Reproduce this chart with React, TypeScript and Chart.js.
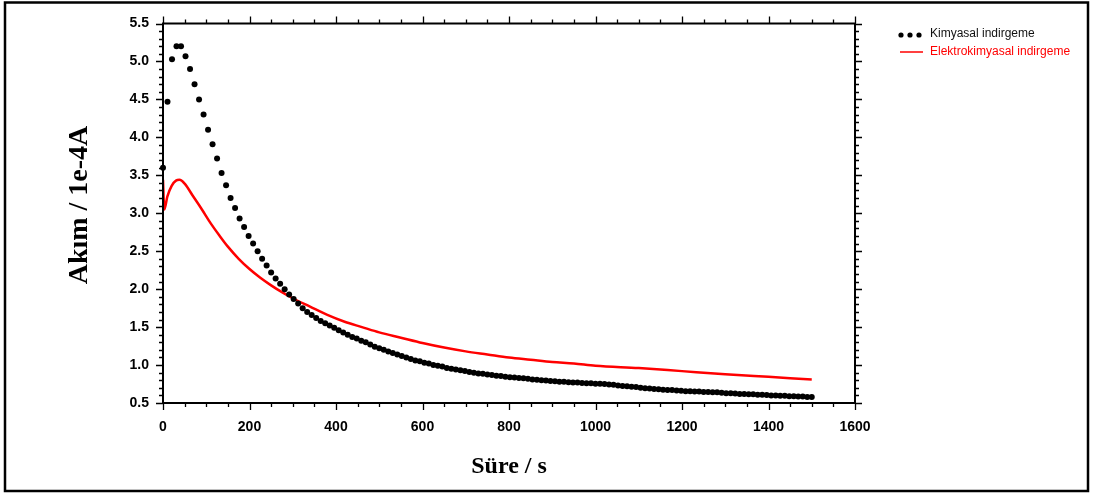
import React, { useEffect, useRef } from "react";
import { Chart, registerables } from "chart.js";

Chart.register(...registerables);

// ---- Data ----
const KIMYASAL_LABEL = "Kimyasal indirgeme";
const ELEKTRO_LABEL = "Elektrokimyasal indirgeme";

// Chemical reduction (black dots), sampled on a regular time grid 0..1500 s (145 samples)
const kimyasalValues = [
  3.6, 4.47, 5.03, 5.2, 5.2, 5.07, 4.9, 4.7, 4.5, 4.3,
  4.1, 3.91, 3.72, 3.53, 3.37, 3.2, 3.07, 2.93, 2.82, 2.7,
  2.6, 2.5, 2.4, 2.31, 2.22, 2.14, 2.07, 2.0, 1.93, 1.87,
  1.81, 1.75, 1.7, 1.66, 1.62, 1.58, 1.55, 1.52, 1.49, 1.46,
  1.43, 1.4, 1.37, 1.35, 1.32, 1.3, 1.27, 1.24, 1.22, 1.2,
  1.18, 1.16, 1.14, 1.12, 1.1, 1.08, 1.06, 1.05, 1.03, 1.02,
  1.0, 0.99, 0.98, 0.96, 0.95, 0.94, 0.93, 0.92, 0.91, 0.9,
  0.89, 0.885, 0.875, 0.87, 0.86, 0.855, 0.845, 0.84, 0.835, 0.83,
  0.825, 0.82, 0.81, 0.805, 0.8, 0.795, 0.79, 0.785, 0.78, 0.78,
  0.775, 0.77, 0.77, 0.765, 0.76, 0.76, 0.755, 0.755, 0.75, 0.745,
  0.74, 0.73, 0.725, 0.72, 0.715, 0.71, 0.7, 0.695, 0.69, 0.685,
  0.68, 0.675, 0.67, 0.67, 0.665, 0.66, 0.655, 0.655, 0.65, 0.65,
  0.645, 0.645, 0.64, 0.64, 0.635, 0.63, 0.63, 0.625, 0.62, 0.62,
  0.615, 0.615, 0.61, 0.61, 0.605, 0.6, 0.6, 0.595, 0.595, 0.59,
  0.59, 0.585, 0.585, 0.58, 0.58,
];
const KIMYASAL_END_TIME = 1500;
const kimyasalTimes = kimyasalValues.map(
  (_, i) => (i * KIMYASAL_END_TIME) / (kimyasalValues.length - 1)
);

// Electrochemical reduction (red line)
const elektroTimes = [
  0, 3, 10, 20, 30, 38, 50, 70, 90, 110, 130, 150, 175, 200, 225, 250, 275,
  300, 340, 380, 420, 460, 500, 550, 600, 650, 700, 750, 800, 850, 900, 950,
  1000, 1100, 1200, 1300, 1400, 1500,
];
const elektroValues = [
  3.44, 3.05, 3.22, 3.36, 3.43, 3.44, 3.39, 3.22, 3.05, 2.87, 2.71, 2.56,
  2.4, 2.265, 2.15, 2.05, 1.96, 1.88, 1.77, 1.66, 1.57, 1.5, 1.43, 1.36,
  1.29, 1.23, 1.18, 1.14, 1.1, 1.07, 1.04, 1.02, 0.99, 0.96, 0.92, 0.88,
  0.845, 0.81,
];

// Axes
const X_MIN = 0;
const X_MAX = 1600;
const X_MAJOR = 200;
const X_MINOR = 50;
const Y_MIN = 0.5;
const Y_MAX = 5.5;
const Y_MAJOR = 0.5;
const Y_MINOR = 0.1;
const X_TITLE = "Süre / s";
const Y_TITLE = "Akım / 1e-4A";

const W = 1093;
const H = 495;

const framePlugin = {
  id: "framePlugin",
  afterDraw(chart: any) {
    const { ctx, chartArea, scales } = chart;
    const { left, right, top, bottom } = chartArea;
    const xs = scales.x;
    const ys = scales.y;
    ctx.save();
    ctx.strokeStyle = "#000";
    // plot box
    ctx.lineWidth = 2;
    ctx.strokeRect(left, top, right - left, bottom - top);
    // ticks
    ctx.lineWidth = 1.3;
    ctx.beginPath();
    const nx = Math.round((X_MAX - X_MIN) / X_MINOR);
    const perMajX = Math.round(X_MAJOR / X_MINOR);
    for (let k = 0; k <= nx; k++) {
      const v = X_MIN + k * X_MINOR;
      const px = Math.round(xs.getPixelForValue(v)) + 0.5;
      const len = k % perMajX === 0 ? 7 : 4;
      ctx.moveTo(px, bottom);
      ctx.lineTo(px, bottom + len);
      ctx.moveTo(px, top);
      ctx.lineTo(px, top - len);
    }
    const ny = Math.round((Y_MAX - Y_MIN) / Y_MINOR);
    const perMajY = Math.round(Y_MAJOR / Y_MINOR);
    for (let k = 0; k <= ny; k++) {
      const v = Y_MIN + k * Y_MINOR;
      const py = Math.round(ys.getPixelForValue(v)) + 0.5;
      const len = k % perMajY === 0 ? 7 : 4;
      ctx.moveTo(left, py);
      ctx.lineTo(left - len, py);
      ctx.moveTo(right, py);
      ctx.lineTo(right + len, py);
    }
    ctx.stroke();

    // y-axis title
    ctx.save();
    ctx.translate(80, 205);
    ctx.rotate(-Math.PI / 2);
    ctx.font = 'bold 28px "Liberation Serif", "Times New Roman", serif';
    ctx.fillStyle = "#000";
    ctx.textAlign = "center";
    ctx.textBaseline = "middle";
    ctx.fillText(Y_TITLE, 0, 0);
    ctx.restore();

    // outer frame
    ctx.lineWidth = 2.5;
    ctx.strokeRect(5, 2.5, 1083, 488.5);

    // legend
    ctx.fillStyle = "#000";
    [901, 910, 919].forEach((cx) => {
      ctx.beginPath();
      ctx.arc(cx, 35, 2.6, 0, Math.PI * 2);
      ctx.fill();
    });
    ctx.font = '12px "Liberation Sans", Arial, sans-serif';
    ctx.textBaseline = "middle";
    ctx.textAlign = "left";
    ctx.fillStyle = "#111";
    ctx.fillText(KIMYASAL_LABEL, 930, 34);
    ctx.strokeStyle = "#ff0000";
    ctx.lineWidth = 1.5;
    ctx.beginPath();
    ctx.moveTo(900, 52);
    ctx.lineTo(923, 52);
    ctx.stroke();
    ctx.fillStyle = "#ff0000";
    ctx.fillText(ELEKTRO_LABEL, 930, 52);
    ctx.restore();
  },
};

export default function App() {
  const ref = useRef<HTMLCanvasElement | null>(null);

  useEffect(() => {
    if (!ref.current) return;
    const tickFont = {
      family: '"Liberation Sans", Arial, sans-serif',
      size: 14,
      weight: "bold" as const,
    };
    const titleFont = {
      family: '"Liberation Serif", "Times New Roman", serif',
      size: 24,
      weight: "bold" as const,
    };
    const chart = new Chart(ref.current, {
      type: "line",
      data: {
        datasets: [
          {
            label: KIMYASAL_LABEL,
            data: kimyasalTimes.map((t, i) => ({ x: t, y: kimyasalValues[i] })),
            showLine: false,
            pointRadius: 3,
            pointHoverRadius: 3,
            pointBackgroundColor: "#000",
            pointBorderColor: "#000",
            pointBorderWidth: 0,
            borderColor: "#000",
            backgroundColor: "#000",
            clip: false as any,
            order: 0,
          },
          {
            label: ELEKTRO_LABEL,
            data: elektroTimes.map((t, i) => ({ x: t, y: elektroValues[i] })),
            borderColor: "#ff0000",
            backgroundColor: "#ff0000",
            borderWidth: 2.5,
            pointRadius: 0,
            cubicInterpolationMode: "monotone",
            order: 1,
          },
        ],
      },
      options: {
        animation: false,
        responsive: false,
        devicePixelRatio: 1,
        layout: { padding: { left: 50, right: 238, top: 23.5, bottom: 10 } },
        plugins: {
          legend: { display: false },
          tooltip: { enabled: false },
        },
        scales: {
          x: {
            type: "linear",
            min: X_MIN,
            max: X_MAX,
            grid: { display: false },
            border: { display: false },
            ticks: {
              stepSize: X_MAJOR,
              font: tickFont,
              color: "#000",
              padding: 8,
              maxRotation: 0,
              autoSkip: false,
              callback: (v: any) => String(v),
            },
            title: {
              display: true,
              text: X_TITLE,
              font: titleFont,
              color: "#000",
              padding: { top: 0, bottom: 4 },
            },
            afterFit: (s: any) => {
              s.height = H - 10 - 403;
            },
          },
          y: {
            type: "linear",
            min: Y_MIN,
            max: Y_MAX,
            grid: { display: false },
            border: { display: false },
            ticks: {
              stepSize: Y_MAJOR,
              font: tickFont,
              color: "#000",
              padding: 6,
              autoSkip: false,
              callback: (v: any) => Number(v).toFixed(1),
            },
            title: { display: false },
            afterFit: (s: any) => {
              s.width = 163 - 50;
            },
          },
        },
      } as any,
      plugins: [framePlugin],
    });
    return () => chart.destroy();
  }, []);

  return (
    <div style={{ position: "absolute", left: 0, top: 0, width: W, height: H, background: "#fff" }}>
      <canvas ref={ref} width={W} height={H} style={{ width: W, height: H, display: "block" }} />
    </div>
  );
}
